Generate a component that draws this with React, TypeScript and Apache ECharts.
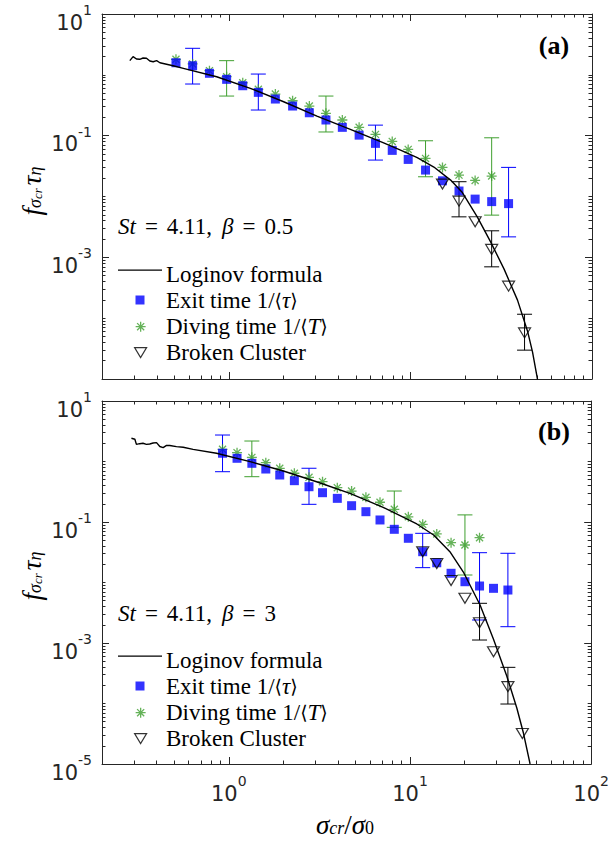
import React, { useEffect, useRef } from "react";
import * as echarts from "echarts";

// ---------------- Panel (a): St = 4.11, beta = 0.5 ----------------
const aCurveX = [0.284, 0.296, 0.309, 0.322, 0.336, 0.351, 0.366, 0.382, 0.399, 0.416, 0.492, 0.56, 0.855, 1.31, 2.0, 3.05, 4.66, 7.11, 8.81, 10.89, 13.45, 16.63, 19.31, 23.36, 27.67, 32.78, 38.86, 44.14, 47.03, 50.12];
const aCurveY = [1.71, 1.99, 1.82, 1.8, 1.89, 1.87, 1.69, 1.64, 1.71, 1.58, 1.41, 1.28, 0.931, 0.6, 0.361, 0.21, 0.127, 0.0764, 0.0579, 0.0436, 0.0305, 0.0186, 0.0116, 0.00458, 0.00178, 0.00064, 0.000198, 6.11e-5, 2.76e-5, 9.8e-6];

const aExitX = [0.51, 0.63, 0.78, 0.97, 1.19, 1.45, 1.8, 2.24, 2.77, 3.42, 4.21, 5.21, 6.41, 7.93, 9.71, 12.1, 15.0, 18.5, 22.7, 28.0, 34.7];
const aExitY = [1.58, 1.41, 1.06, 0.843, 0.662, 0.515, 0.4, 0.307, 0.238, 0.181, 0.137, 0.102, 0.0747, 0.0573, 0.0407, 0.0272, 0.0181, 0.0123, 0.00906, 0.00824, 0.00764];
const aExitErrX = [0.63, 1.45, 6.41, 34.7];
const aExitErrLo = [0.706, 0.264, 0.0397, 0.00217];
const aExitErrHi = [2.73, 1.03, 0.149, 0.0301];

const aDiveX = [0.51, 0.63, 0.78, 0.97, 1.19, 1.45, 1.8, 2.24, 2.77, 3.42, 4.21, 5.21, 6.41, 7.93, 9.71, 12.1, 15.0, 18.5, 22.7, 28.0];
const aDiveY = [1.8, 1.51, 1.17, 0.931, 0.741, 0.578, 0.483, 0.375, 0.307, 0.233, 0.181, 0.137, 0.105, 0.0805, 0.0595, 0.0423, 0.0301, 0.0225, 0.0184, 0.0217];
const aDiveErrX = [0.97, 3.42, 12.1, 28.0];
const aDiveErrLo = [0.448, 0.115, 0.0211, 0.00494];
const aDiveErrHi = [1.71, 0.448, 0.0824, 0.0923];

const aBrokenX = [15.0, 18.5, 22.7, 28.0, 34.7, 42.5];
const aBrokenY = [0.016, 0.00839, 0.00384, 0.00135, 0.000336, 5.73e-5];
const aBrokenErrX = [18.5, 28.0, 42.5];
const aBrokenErrLo = [0.00463, 0.000698, 2.98e-5];
const aBrokenErrHi = [0.0175, 0.00273, 1.16e-4];

// ---------------- Panel (b): St = 4.11, beta = 3 ----------------
const bCurveX = [0.29, 0.303, 0.309, 0.322, 0.336, 0.351, 0.366, 0.382, 0.399, 0.416, 0.434, 0.453, 0.472, 0.514, 0.56, 0.635, 0.855, 1.31, 2.0, 3.05, 4.66, 7.11, 10.9, 13.5, 16.6, 19.7, 24.36, 28.86, 34.2, 38.86, 42.27, 46.0];
const bCurveY = [2.42, 2.33, 1.92, 1.97, 2.0, 1.92, 1.95, 2.02, 2.05, 1.77, 1.7, 1.85, 1.84, 1.76, 1.72, 1.59, 1.37, 0.993, 0.697, 0.463, 0.298, 0.175, 0.0927, 0.061, 0.0323, 0.0149, 0.00425, 0.001164, 0.000285, 8.43e-5, 3.25e-5, 1.0e-5];

const bExitX = [0.923, 1.11, 1.34, 1.6, 1.91, 2.3, 2.77, 3.29, 3.97, 4.76, 5.71, 6.83, 8.19, 9.79, 11.75, 14.05, 16.85, 20.1, 24.2, 28.9, 34.7];
const bExitY = [1.37, 1.13, 0.934, 0.751, 0.598, 0.482, 0.383, 0.305, 0.246, 0.186, 0.148, 0.108, 0.0757, 0.0538, 0.0323, 0.0212, 0.0142, 0.0103, 0.00875, 0.00801, 0.00751];
const bExitErrX = [0.923, 2.77, 11.75, 24.2, 34.7];
const bExitErrLo = [0.678, 0.196, 0.0176, 0.0024, 0.00186];
const bExitErrHi = [2.74, 0.773, 0.065, 0.0311, 0.0304];

const bDiveX = [0.923, 1.11, 1.34, 1.6, 1.91, 2.3, 2.77, 3.29, 3.97, 4.76, 5.71, 6.83, 8.19, 9.79, 11.75, 14.05, 16.85, 20.1, 24.2];
const bDiveY = [1.59, 1.4, 1.17, 0.955, 0.772, 0.639, 0.548, 0.464, 0.369, 0.325, 0.256, 0.212, 0.162, 0.122, 0.0916, 0.0634, 0.0455, 0.0417, 0.055];
const bDiveErrX = [1.34, 8.19, 20.1];
const bDiveErrLo = [0.561, 0.0816, 0.0133];
const bDiveErrHi = [2.18, 0.325, 0.131];

const bBrokenX = [11.75, 14.05, 16.85, 20.1, 24.2, 28.9, 34.7, 41.7];
const bBrokenY = [0.0323, 0.0206, 0.0108, 0.00548, 0.00216, 0.000718, 0.00019, 3.2e-5];
const bBrokenErrX = [24.2, 34.7];
const bBrokenErrLo = [0.00112, 9.8e-5];
const bBrokenErrHi = [0.00453, 0.000396];

// Axis ticks (log10 exponents)
const xMajorTicks = [0, 1, 2];
const xLabelTicks = [0, 1, 2];
const yMajorTicks = [1, -1, -3, -5];
const yLabelTicksA = [1, -1, -3];
const yLabelTicksB = [1, -1, -3, -5];
const X_MIN = -0.7, X_MAX = 2, Y_MIN = -5, Y_MAX = 1;

const NAMES = ["Loginov formula", "Exit time 1/⟨τ⟩", "Diving time 1/⟨T⟩", "Broken Cluster"];
const NAMES_RICH = [
  "{t|Loginov formula}",
  "{t|Exit time 1/}{m|⟨}{i|τ}{m|⟩}",
  "{t|Diving time 1/}{m|⟨}{i|T}{m|⟩}",
  "{t|Broken Cluster}",
];

const BLUE = "#0000ff";
const GREEN = "#3f9f2f";
const AXIS = "#262626";
const SERIF = "Liberation Serif";
const SANS = "DejaVu Sans";

const ASTERISK = "path://M0,-10L0,10M-10,0L10,0M-7.07,-7.07L7.07,7.07M-7.07,7.07L7.07,-7.07";
const TRIANGLE = "path://M0,0L12,0L6,10Z";
const SQUARE = "path://M0,0L1,0L1,1L0,1Z";
const LINEICON = "path://M0,0L44,0L44,1.3L0,1.3Z";
const ICONS = [
  { icon: LINEICON, itemStyle: { color: "#000", borderWidth: 0 } },
  { icon: SQUARE, itemStyle: { color: BLUE, borderWidth: 0 } },
  { icon: ASTERISK, itemStyle: { color: GREEN, borderColor: GREEN, borderWidth: 1.3 } },
  { icon: TRIANGLE, itemStyle: { color: "rgba(0,0,0,0)", borderColor: "#000", borderWidth: 1.2 } },
];
const ICON_W = [44, 9, 10, 12];
const ICON_H = [9, 9, 10, 10];

const L = (v: number) => Math.log10(v);
const pts = (xs: number[], ys: number[]) => xs.map((x, i) => [L(x), L(ys[i])]);
const errs = (xs: number[], lo: number[], hi: number[]) => xs.map((x, i) => [L(x), L(lo[i]), L(hi[i])]);

function minorTicks(lo: number, hi: number, majors: number[]) {
  const out: number[] = [];
  for (let d = Math.floor(lo); d <= Math.ceil(hi); d++) {
    for (let k = 1; k < 10; k++) {
      const v = d + Math.log10(k);
      if (v >= lo - 1e-9 && v <= hi + 1e-9 && !majors.some((m) => Math.abs(m - v) < 1e-9)) out.push(v);
    }
  }
  return out;
}
const xMinorTicks = minorTicks(X_MIN, X_MAX, xMajorTicks);
const yMinorTicks = minorTicks(Y_MIN, Y_MAX, yMajorTicks);

const tickRich = {
  b: { fontFamily: SANS, fontSize: 21, lineHeight: 30, verticalAlign: "bottom", color: AXIS },
  s: { fontFamily: SANS, fontSize: 14, lineHeight: 14, verticalAlign: "top", color: AXIS },
};
const tickFmt = (v: number) => `{b|10}{s|${Math.round(v)}}`;

function xAxes(g: number, labels: boolean) {
  const base: any = {
    type: "value", gridIndex: g, min: X_MIN, max: X_MAX,
    splitLine: { show: false },
    axisLine: { show: true, onZero: false, lineStyle: { color: AXIS, width: 1 } },
  };
  const tickStyle = { color: AXIS, width: 1 };
  return [
    { ...base, position: "bottom",
      axisTick: { show: true, inside: true, length: 7, customValues: xMajorTicks, lineStyle: tickStyle },
      axisLabel: labels
        ? { show: true, customValues: xLabelTicks, margin: 2, padding: [8, 0, 0, 0], fontSize: 21, fontFamily: SANS, color: AXIS, showMinLabel: true, showMaxLabel: true, formatter: tickFmt, rich: tickRich }
        : { show: false } },
    { ...base, position: "bottom", axisLine: { show: false, onZero: false },
      axisTick: { show: true, inside: true, length: 3.5, customValues: xMinorTicks, lineStyle: tickStyle }, axisLabel: { show: false } },
    { ...base, position: "top",
      axisTick: { show: true, inside: true, length: 7, customValues: xMajorTicks, lineStyle: tickStyle }, axisLabel: { show: false } },
    { ...base, position: "top", axisLine: { show: false, onZero: false },
      axisTick: { show: true, inside: true, length: 3.5, customValues: xMinorTicks, lineStyle: tickStyle }, axisLabel: { show: false } },
  ];
}

function yAxes(g: number, labelTicks: number[]) {
  const base: any = {
    type: "value", gridIndex: g, min: Y_MIN, max: Y_MAX,
    splitLine: { show: false },
    axisLine: { show: true, onZero: false, lineStyle: { color: AXIS, width: 1 } },
  };
  const tickStyle = { color: AXIS, width: 1 };
  return [
    { ...base, position: "left",
      axisTick: { show: true, inside: true, length: 7, customValues: yMajorTicks, lineStyle: tickStyle },
      axisLabel: { show: true, customValues: labelTicks, margin: 10, padding: [8, 0, 0, 0], fontSize: 21, fontFamily: SANS, color: AXIS, showMinLabel: true, showMaxLabel: true, formatter: tickFmt, rich: tickRich } },
    { ...base, position: "left", axisLine: { show: false, onZero: false },
      axisTick: { show: true, inside: true, length: 3.5, customValues: yMinorTicks, lineStyle: tickStyle }, axisLabel: { show: false } },
    { ...base, position: "right",
      axisTick: { show: true, inside: true, length: 7, customValues: yMajorTicks, lineStyle: tickStyle }, axisLabel: { show: false } },
    { ...base, position: "right", axisLine: { show: false, onZero: false },
      axisTick: { show: true, inside: true, length: 3.5, customValues: yMinorTicks, lineStyle: tickStyle }, axisLabel: { show: false } },
  ];
}

function errRender(color: string) {
  return (params: any, api: any) => {
    const x = api.value(0), lo = api.value(1), hi = api.value(2);
    const a = api.coord([x, lo]);
    const b = api.coord([x, hi]);
    const w = 7.5;
    const style = { stroke: color, lineWidth: 1 };
    return {
      type: "group",
      children: [
        { type: "line", shape: { x1: a[0], y1: a[1], x2: b[0], y2: b[1] }, style },
        { type: "line", shape: { x1: a[0] - w, y1: a[1], x2: a[0] + w, y2: a[1] }, style },
        { type: "line", shape: { x1: b[0] - w, y1: b[1], x2: b[0] + w, y2: b[1] }, style },
      ],
    };
  };
}

function panelSeries(g: number, d: any) {
  const ax = { xAxisIndex: 4 * g, yAxisIndex: 4 * g };
  return [
    { type: "custom", name: `errD${g}`, ...ax, z: 2, renderItem: errRender(GREEN), encode: { x: 0, y: [1, 2] }, data: errs(d.diveErrX, d.diveErrLo, d.diveErrHi) },
    { type: "custom", name: `errE${g}`, ...ax, z: 2, renderItem: errRender(BLUE), encode: { x: 0, y: [1, 2] }, data: errs(d.exitErrX, d.exitErrLo, d.exitErrHi) },
    { type: "custom", name: `errB${g}`, ...ax, z: 2, renderItem: errRender("#000"), encode: { x: 0, y: [1, 2] }, data: errs(d.brokenErrX, d.brokenErrLo, d.brokenErrHi) },
    { type: "scatter", name: NAMES[2], ...ax, z: 3, symbol: ASTERISK, symbolSize: 10,
      itemStyle: { color: GREEN, borderColor: GREEN, borderWidth: 1.3 }, data: pts(d.diveX, d.diveY) },
    { type: "scatter", name: NAMES[1], ...ax, z: 4, symbol: "rect", symbolSize: 9,
      itemStyle: { color: BLUE }, data: pts(d.exitX, d.exitY) },
    { type: "scatter", name: NAMES[3], ...ax, z: 5, symbol: TRIANGLE, symbolSize: [12, 10],
      itemStyle: { color: "rgba(0,0,0,0)", borderColor: "#000", borderWidth: 1.2 }, data: pts(d.brokenX, d.brokenY) },
    { type: "line", name: NAMES[0], ...ax, z: 6, symbol: "none", showSymbol: false, clip: true,
      lineStyle: { color: "#000", width: 1.4 }, data: pts(d.curveX, d.curveY) },
  ];
}

// legend keys: one single-item legend per row (icon box sized to the key), labels drawn as text beside them
const ROW = 26;
const KEY_LEFT = 118, KEY_WIDTH = 44;
function legendRows(firstRowCenter: number) {
  return NAMES.map((name, k) => ({
    orient: "vertical",
    left: KEY_LEFT + (KEY_WIDTH - ICON_W[k]) / 2,
    top: firstRowCenter + k * ROW - ICON_H[k] / 2,
    padding: 0, itemWidth: ICON_W[k], itemHeight: ICON_H[k],
    selectedMode: false, formatter: () => "",
    textStyle: { fontSize: 1, lineHeight: 1, color: "rgba(0,0,0,0)" },
    data: [{ name, ...ICONS[k] }],
  }));
}
const legendLabelRich = {
  t: { fontFamily: SERIF, fontSize: 23, color: "#000" },
  i: { fontFamily: SERIF, fontStyle: "italic", fontSize: 23, color: "#000" },
  m: { fontFamily: "DejaVu Serif", fontSize: 19, color: "#000" },
};
function legendLabels(firstRowCenter: number) {
  return NAMES_RICH.map((txt, k) => ({
    type: "text", x: 166, y: firstRowCenter + k * ROW,
    style: { text: txt, rich: legendLabelRich, fill: "#000", align: "left", verticalAlign: "middle" },
  }));
}

const annRich = {
  n: { fontFamily: SERIF, fontSize: 23, color: "#000" },
  e: { fontFamily: SERIF, fontSize: 23, color: "#000", padding: [0, 9, 0, 9] },
  c: { fontFamily: SERIF, fontSize: 23, color: "#000", padding: [0, 10, 0, 0] },
  i: { fontFamily: SERIF, fontStyle: "italic", fontSize: 23, color: "#000" },
};
const yNameRich = {
  f: { fontFamily: SERIF, fontStyle: "italic", fontSize: 27, lineHeight: 26, padding: [0, 0, 5, 0], verticalAlign: "top", color: "#000" },
  s: { fontFamily: SERIF, fontStyle: "italic", fontSize: 18, lineHeight: 18, verticalAlign: "bottom", color: "#000" },
  ss: { fontFamily: SERIF, fontStyle: "italic", fontSize: 13, lineHeight: 12, verticalAlign: "bottom", color: "#000" },
  sp: { fontFamily: SERIF, fontSize: 12, lineHeight: 12, color: "#000" },
};
const xNameRich = {
  i: { fontFamily: SERIF, fontStyle: "italic", fontSize: 27, lineHeight: 26, padding: [0, 0, 5, 0], verticalAlign: "top", color: "#000" },
  n: { fontFamily: SERIF, fontSize: 27, lineHeight: 26, padding: [0, 0, 5, 0], verticalAlign: "top", color: "#000" },
  s: { fontFamily: SERIF, fontStyle: "italic", fontSize: 18, lineHeight: 18, verticalAlign: "bottom", color: "#000" },
  s0: { fontFamily: SERIF, fontSize: 18, lineHeight: 18, verticalAlign: "bottom", color: "#000" },
};

export default function App() {
  const ref = useRef<HTMLDivElement>(null);
  useEffect(() => {
    if (!ref.current) return;
    const chart = echarts.init(ref.current, null, { renderer: "svg" });
    const A = {
      curveX: aCurveX, curveY: aCurveY, exitX: aExitX, exitY: aExitY, exitErrX: aExitErrX, exitErrLo: aExitErrLo, exitErrHi: aExitErrHi,
      diveX: aDiveX, diveY: aDiveY, diveErrX: aDiveErrX, diveErrLo: aDiveErrLo, diveErrHi: aDiveErrHi,
      brokenX: aBrokenX, brokenY: aBrokenY, brokenErrX: aBrokenErrX, brokenErrLo: aBrokenErrLo, brokenErrHi: aBrokenErrHi,
    };
    const B = {
      curveX: bCurveX, curveY: bCurveY, exitX: bExitX, exitY: bExitY, exitErrX: bExitErrX, exitErrLo: bExitErrLo, exitErrHi: bExitErrHi,
      diveX: bDiveX, diveY: bDiveY, diveErrX: bDiveErrX, diveErrLo: bDiveErrLo, diveErrHi: bDiveErrHi,
      brokenX: bBrokenX, brokenY: bBrokenY, brokenErrX: bBrokenErrX, brokenErrLo: bBrokenErrLo, brokenErrHi: bBrokenErrHi,
    };
    const option: any = {
      animation: false,
      backgroundColor: "#ffffff",
      grid: [
        { left: 102, top: 14, width: 490, height: 365 },
        { left: 102, top: 401, width: 490, height: 363 },
      ],
      xAxis: [...xAxes(0, false), ...xAxes(1, true)],
      yAxis: [...yAxes(0, yLabelTicksA), ...yAxes(1, yLabelTicksB)],
      legend: [...legendRows(274), ...legendRows(660)],
      series: [...panelSeries(0, A), ...panelSeries(1, B)],
      graphic: [
        ...legendLabels(274),
        ...legendLabels(660),
        { type: "text", x: 554, y: 45, style: { text: "(a)", fontFamily: SERIF, fontWeight: "bold", fontSize: 26, fill: "#000", align: "center", verticalAlign: "middle" } },
        { type: "text", x: 554, y: 431, style: { text: "(b)", fontFamily: SERIF, fontWeight: "bold", fontSize: 26, fill: "#000", align: "center", verticalAlign: "middle" } },
        { type: "text", x: 118, y: 226, style: { text: "{i|St}{e|=}{c|4.11,}{i|β}{e|=}{n|0.5}", rich: annRich, fill: "#000", align: "left", verticalAlign: "middle" } },
        { type: "text", x: 118, y: 613, style: { text: "{i|St}{e|=}{c|4.11,}{i|β}{e|=}{n|3}", rich: annRich, fill: "#000", align: "left", verticalAlign: "middle" } },
        { type: "text", x: 31, y: 191, rotation: Math.PI / 2, style: { text: "{f|f}{s|σ}{ss|cr}{sp| }{f|τ}{s|η}", rich: yNameRich, fill: "#000", align: "center", verticalAlign: "middle" } },
        { type: "text", x: 31, y: 576, rotation: Math.PI / 2, style: { text: "{f|f}{s|σ}{ss|cr}{sp| }{f|τ}{s|η}", rich: yNameRich, fill: "#000", align: "center", verticalAlign: "middle" } },
        { type: "text", x: 345, y: 824, style: { text: "{i|σ}{s|cr}{n|/}{i|σ}{s0|0}", rich: xNameRich, fill: "#000", align: "center", verticalAlign: "middle" } },
      ],
    };
    chart.setOption(option);
    return () => chart.dispose();
  }, []);
  return <div ref={ref} style={{ position: "absolute", left: 0, top: 0, width: 612, height: 846 }} />;
}
